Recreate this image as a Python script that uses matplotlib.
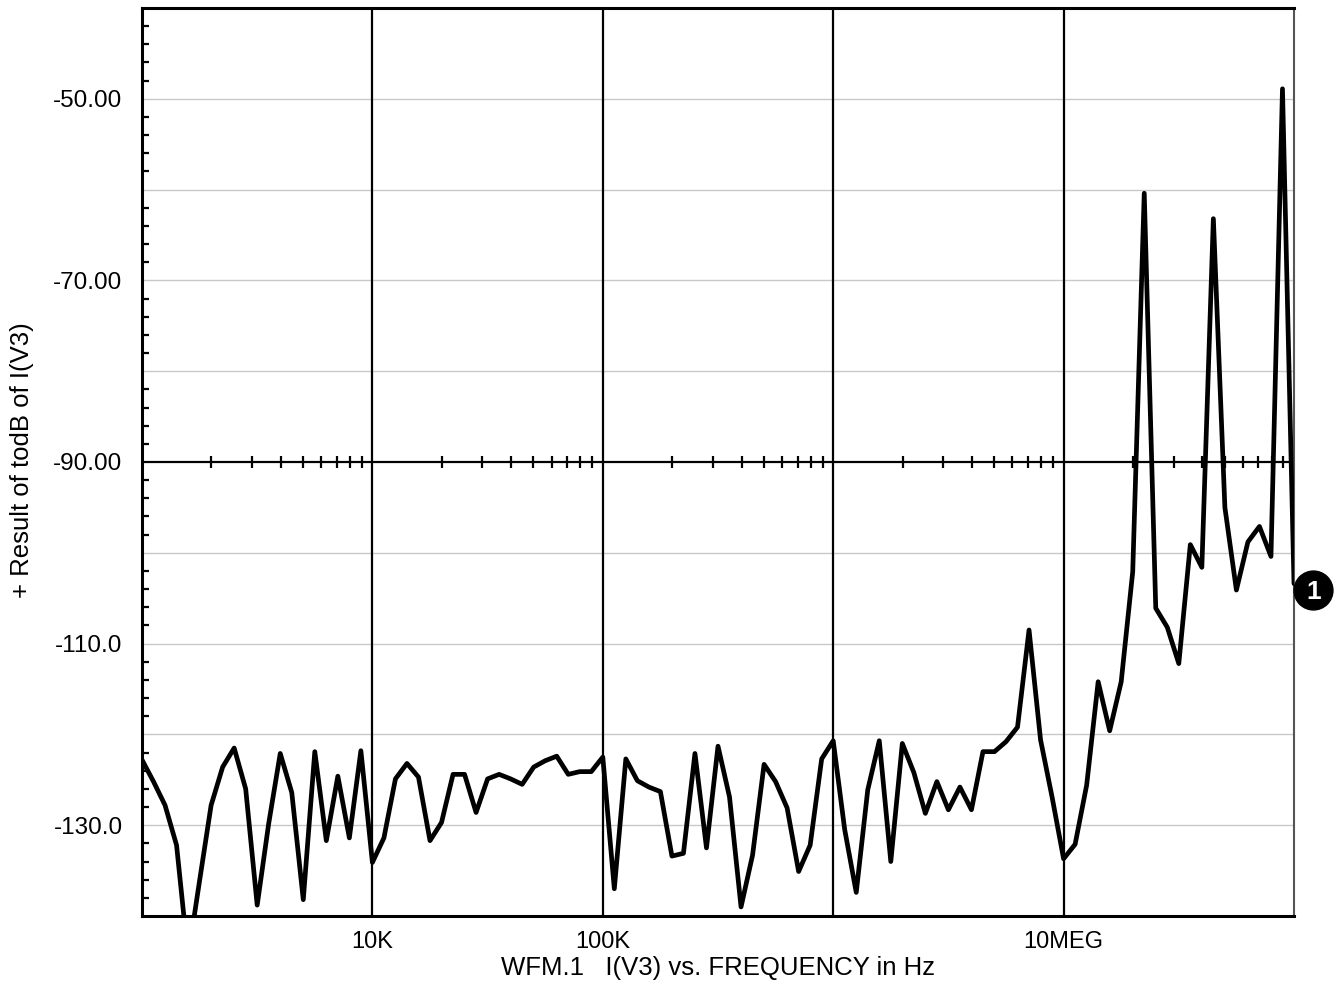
import matplotlib
matplotlib.use('Agg')
import matplotlib.pyplot as plt
from matplotlib.ticker import FixedLocator, NullFormatter

plt.rcParams['font.family'] = ['Liberation Sans', 'DejaVu Sans']

# frequency sweep: 1K .. 100MEG, 20 points per decade
f_start = 1e3
pts_per_decade = 20
n_points = 101

# todB of I(V3)
db_values = [
    -122.8, -125.2, -127.8, -132.2, -144.5, -136.1, -127.8, -123.6, -121.5, -126.0,
    -138.8, -129.8, -122.1, -126.4, -138.2, -121.9, -131.7, -124.6, -131.4, -121.8,
    -134.1, -131.4, -124.9, -123.2, -124.7, -131.7, -129.7, -124.4, -124.4, -128.6,
    -124.9, -124.4, -124.9, -125.5, -123.6, -122.9, -122.4, -124.4, -124.1, -124.1,
    -122.5, -137.0, -122.7, -125.1, -125.8, -126.3, -133.4, -133.1, -122.1, -132.5,
    -121.3, -126.9, -139.0, -133.3, -123.3, -125.2, -128.1, -135.1, -132.2, -122.7,
    -120.7, -130.5, -137.4, -126.1, -120.7, -134.0, -121.0, -124.2, -128.7, -125.2,
    -128.3, -125.8, -128.3, -121.9, -121.9, -120.8, -119.2, -108.5, -120.6, -126.9,
    -133.7, -132.1, -125.6, -114.2, -119.6, -114.2, -102.1, -60.4, -106.1, -108.2,
    -112.2, -99.1, -101.6, -63.2, -95.0, -104.1, -98.8, -97.1, -100.4, -48.9,
    -103.4,
]
freq = [f_start * 10 ** (i / pts_per_decade) for i in range(n_points)]

x_tick_vals = [1e4, 1e5, 1e7]
x_tick_labels = ['10K', '100K', '10MEG']
y_tick_vals = [-50, -70, -90, -110, -130]
y_tick_labels = ['-50.00', '-70.00', '-90.00', '-110.0', '-130.0']

fig = plt.figure(figsize=(13.35, 9.9), dpi=100)
ax = fig.add_axes([142 / 1335, 1 - 916 / 990, (1294 - 142) / 1335, (916 - 8) / 990])

ax.set_xscale('log')
ax.set_xlim(1e3, 1e8)
ax.set_ylim(-140, -40)

# light horizontal grid
for yv in range(-130, -40, 10):
    if yv != -90:
        ax.axhline(yv, color='#c8c8c8', lw=1.0, zorder=1)
# decade lines
for xv in [1e4, 1e5, 1e6, 1e7]:
    ax.axvline(xv, color='black', lw=1.6, zorder=2)

# the x axis drawn through -90 with its minor ticks
ax.axhline(-90, color='black', lw=1.6, zorder=2)
minor_x = [k * 10 ** d for d in range(3, 8) for k in range(2, 10)]
ax.plot(minor_x, [-90] * len(minor_x), linestyle='none', marker='|',
        markersize=9, markeredgewidth=1.6, color='black', zorder=2)

ax.plot(freq, db_values, color='black', lw=3.4, solid_joinstyle='round',
        solid_capstyle='round', zorder=3)

# trace marker "1" at the end of the curve
mk, = ax.plot([freq[-1]], [db_values[-1]], linestyle='none', marker='o',
              markersize=28, color='black', clip_on=False, zorder=4)
mk.set_transform(ax.transData + matplotlib.transforms.ScaledTranslation(
    19 / 100, -6 / 100, fig.dpi_scale_trans))
ax.annotate('1', (freq[-1], db_values[-1]), xytext=(20, -8), textcoords='offset pixels',
            ha='center', va='center', color='white', fontsize=19, fontweight='bold',
            annotation_clip=False, zorder=5)

ax.xaxis.set_major_locator(FixedLocator(x_tick_vals))
ax.set_xticklabels(x_tick_labels, fontsize=17)
ax.xaxis.set_minor_locator(FixedLocator([]))
ax.xaxis.set_minor_formatter(NullFormatter())
ax.tick_params(axis='x', which='major', length=0, pad=11)

ax.yaxis.set_major_locator(FixedLocator(y_tick_vals))
ax.set_yticklabels(y_tick_labels, fontsize=17.5)
minor_y = [v for v in range(-138, -40, 2) if v % 10 != 0]
ax.yaxis.set_minor_locator(FixedLocator(minor_y))
ax.tick_params(axis='y', which='major', length=0, pad=14)
ax.tick_params(axis='y', which='minor', direction='in', length=5, width=1.6)

for side in ['left', 'bottom', 'top']:
    ax.spines[side].set_linewidth(2.2)
    ax.spines[side].set_color('black')
ax.spines['right'].set_linewidth(1.5)
ax.spines['right'].set_color('#555555')

fig.text(718 / 1335, 1 - 968 / 990, 'WFM.1   I(V3) vs. FREQUENCY in Hz',
         ha='center', va='center', fontsize=18.5)
fig.text(22 / 1335, 1 - 460 / 990, '+ Result of todB of I(V3)',
         ha='center', va='center', rotation=90, fontsize=18.5)

fig.savefig('out.png', dpi=100)
